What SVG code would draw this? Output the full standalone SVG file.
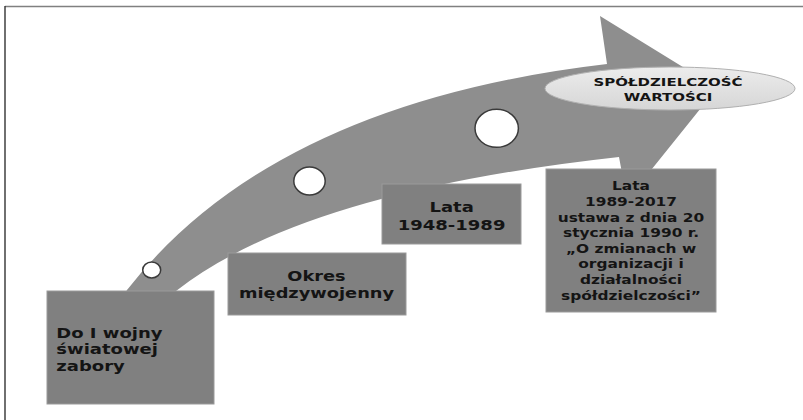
<svg xmlns="http://www.w3.org/2000/svg" width="803" height="420" viewBox="0 0 803 420">
<defs>
<style>
.box{fill:#808080;stroke:#9a9a9a;stroke-width:1}
.dot{fill:#ffffff;stroke:#3a3a3a;stroke-width:1.5}
.t{font-family:"DejaVu Sans","Verdana",sans-serif;font-weight:bold;fill:#141414}
</style>
<linearGradient id="eg" x1="0" y1="0" x2="0" y2="1">
<stop offset="0" stop-color="#ececec"/>
<stop offset="1" stop-color="#d6d6d6"/>
</linearGradient>
</defs>
<rect x="0" y="0" width="803" height="420" fill="#ffffff"/>
<line x1="5" y1="6.5" x2="803" y2="6.5" stroke="#808080" stroke-width="1.6"/>
<line x1="5" y1="6" x2="5" y2="420" stroke="#333333" stroke-width="1.4"/>

<g id="connectors">
<path id="arrow" d="M108 322 L127 290 Q273 103 607 64 L600 16 L717 88 L627 200 L619 157 Q302 192 176 291 L150 322 Z" fill="#8e8e8e"/>
<ellipse class="dot" cx="151.7" cy="270" rx="9" ry="8"/>
<ellipse class="dot" cx="309.5" cy="181" rx="15.7" ry="14"/>
<ellipse class="dot" cx="496.7" cy="128.3" rx="21.7" ry="19"/>
</g>

<g id="goal">
<ellipse cx="670" cy="88.5" rx="125" ry="21.5" fill="url(#eg)" stroke="#b0b0b0" stroke-width="1"/>
<text class="t" text-anchor="middle" font-size="15" transform="translate(668,85.7) scale(1,0.7)">SPÓŁDZIELCZOŚĆ</text>
<text class="t" text-anchor="middle" font-size="15" transform="translate(668,101) scale(1,0.7)">WARTOŚCI</text>
</g>

<g id="node1">
<rect class="box" x="47" y="291" width="167" height="113"/>
<text class="t" font-size="18" transform="translate(56.3,337.7) scale(1,0.79)">Do I wojny</text>
<text class="t" font-size="18" transform="translate(56.3,354.4) scale(1,0.79)">światowej</text>
<text class="t" font-size="18" transform="translate(56.3,371.1) scale(1,0.79)">zabory</text>
</g>

<g id="node2">
<rect class="box" x="228" y="253" width="178" height="62"/>
<text class="t" text-anchor="middle" font-size="17.8" transform="translate(316.5,281.3) scale(1,0.82)">Okres</text>
<text class="t" text-anchor="middle" font-size="17.8" transform="translate(316.5,298.3) scale(1,0.82)">międzywojenny</text>
</g>

<g id="node3">
<rect class="box" x="382" y="184" width="139" height="60"/>
<text class="t" text-anchor="middle" font-size="18" transform="translate(451.6,211.8) scale(1,0.83)">Lata</text>
<text class="t" text-anchor="middle" font-size="18" transform="translate(451.6,229.5) scale(1,0.83)">1948-1989</text>
</g>

<g id="node4">
<rect class="box" x="546" y="169" width="170" height="143"/>
<g class="t" text-anchor="middle" font-size="15.4">
<text transform="translate(631,189.5) scale(1,0.8)">Lata</text>
<text transform="translate(631,205.5) scale(1,0.8)">1989-2017</text>
<text transform="translate(631,221.5) scale(1,0.8)">ustawa z dnia 20</text>
<text transform="translate(631,237.3) scale(1,0.8)">stycznia 1990 r.</text>
<text transform="translate(631,252.8) scale(1,0.8)">„O zmianach w</text>
<text transform="translate(631,268.4) scale(1,0.8)">organizacji i</text>
<text transform="translate(631,284) scale(1,0.8)">działalności</text>
<text transform="translate(631,300) scale(1,0.8)">spółdzielczości”</text>
</g>
</g>
</svg>
